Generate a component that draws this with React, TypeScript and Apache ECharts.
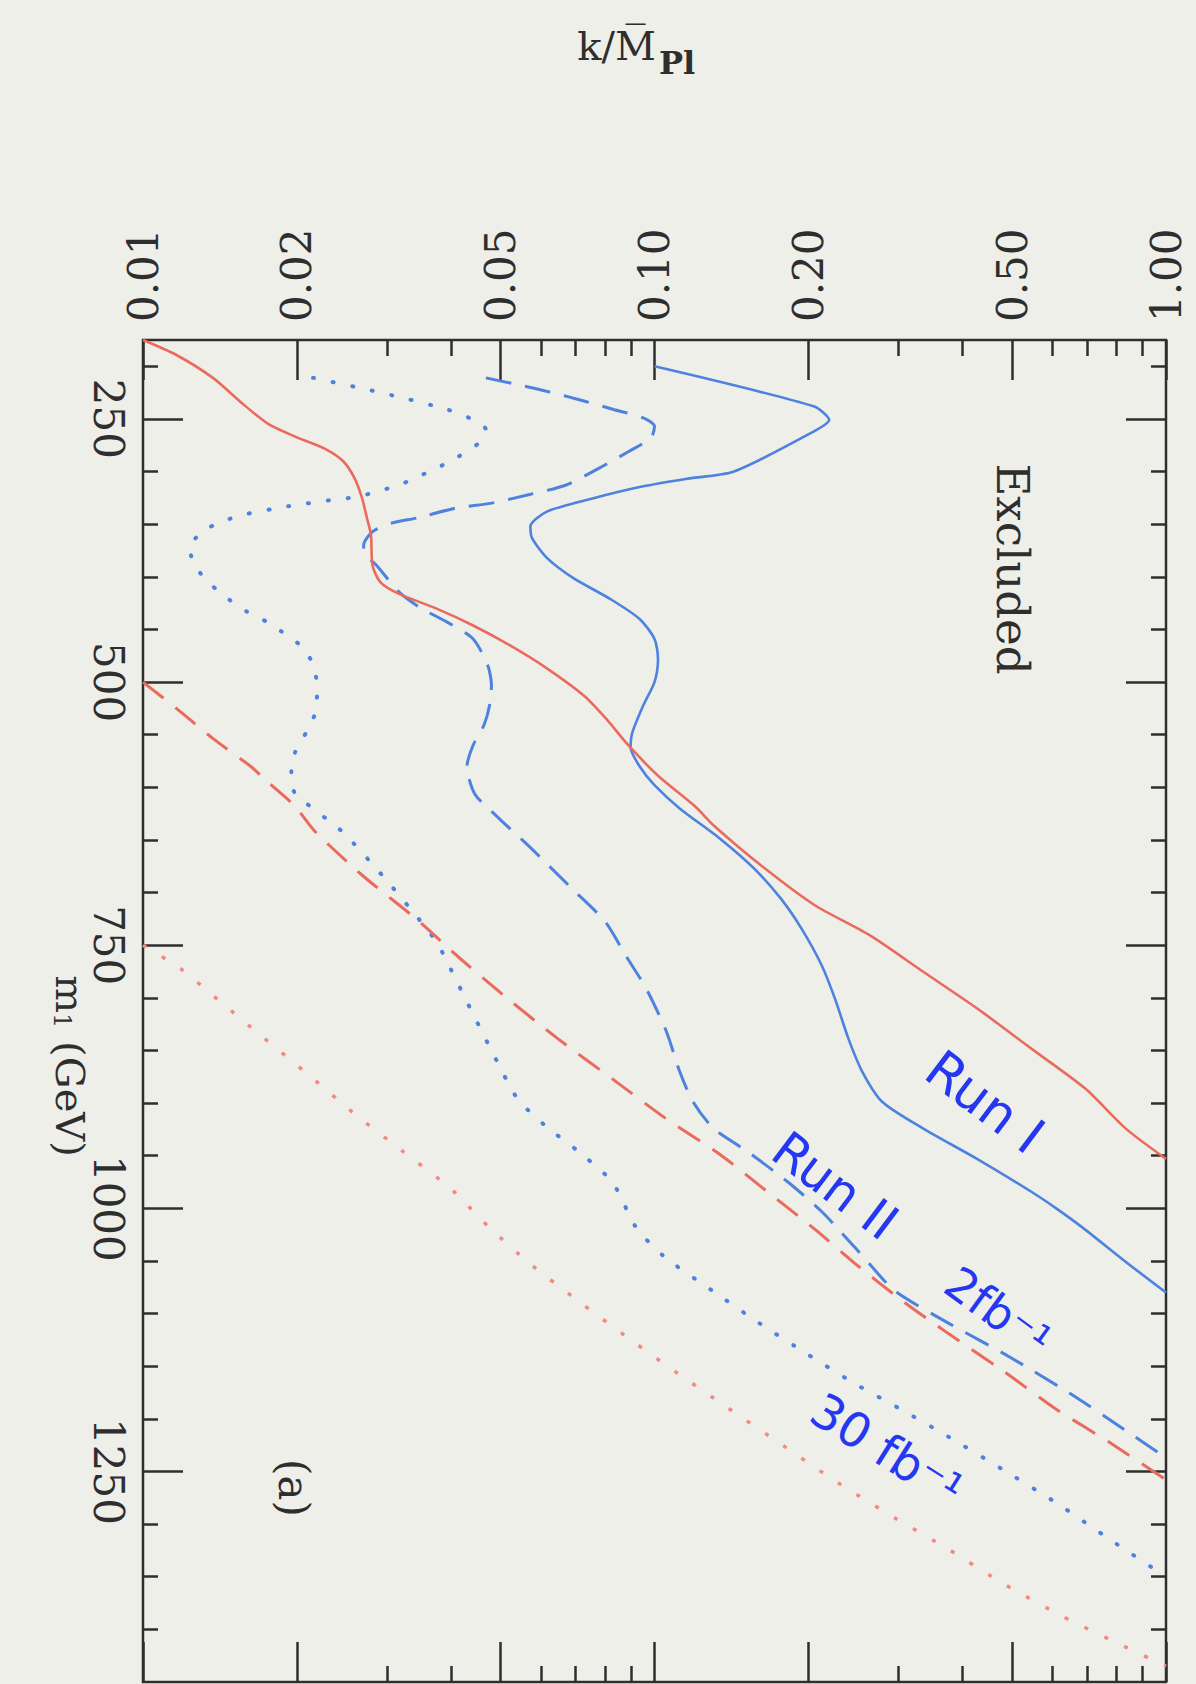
import React, { useEffect, useRef } from "react";
import * as echarts from "echarts";

// ---- tick values ----
const kTicksMajor = [0.01, 0.02, 0.05, 0.1, 0.2, 0.5, 1];
const kTicksMinor = [0.03, 0.04, 0.06, 0.07, 0.08, 0.09, 0.3, 0.4, 0.6, 0.7, 0.8, 0.9];
const mTicksMajor = [250, 500, 750, 1000, 1250];
const mTicksMinor = [200, 300, 350, 400, 450, 550, 600, 650, 700, 800, 850, 900, 950, 1050, 1100, 1150, 1200, 1300, 1350, 1400];

// ---- curves: [k / M_Pl, m1 (GeV)] ----
const redSolid: [number, number][] = [
  [0.01, 175], [0.0116, 189], [0.0137, 211], [0.0157, 236], [0.0176, 255], [0.0201, 268],
  [0.0226, 278], [0.0246, 290], [0.0259, 306], [0.0268, 325], [0.0274, 344], [0.0279, 360],
  [0.0281, 389], [0.0291, 405], [0.0316, 416], [0.0374, 430], [0.0441, 446], [0.0521, 465],
  [0.0616, 487], [0.0728, 513], [0.0805, 535], [0.0889, 560], [0.1016, 589], [0.12, 618],
  [0.1304, 636], [0.1614, 674], [0.2058, 712], [0.2625, 740], [0.3347, 775], [0.4271, 810],
  [0.5445, 848], [0.6944, 886], [0.8333, 924], [1.0, 953],
];
const blueSolid: [number, number][] = [
  [0.1, 200], [0.2046, 238], [0.2195, 251], [0.2046, 262], [0.143, 300], [0.115, 307],
  [0.095, 314], [0.075, 326], [0.0616, 338], [0.0572, 352], [0.0576, 363], [0.0616, 382],
  [0.0693, 401], [0.0819, 421], [0.0935, 440], [0.1, 459], [0.1016, 478], [0.1, 500],
  [0.0951, 522], [0.0905, 548], [0.0898, 562], [0.0935, 580], [0.1, 598], [0.112, 620],
  [0.1345, 649], [0.1565, 677], [0.1768, 706], [0.1937, 734], [0.2122, 769], [0.2254, 801],
  [0.2395, 839], [0.2547, 870], [0.279, 899], [0.3347, 924], [0.4271, 953], [0.5445, 984],
  [0.61, 1000], [0.69, 1019], [0.83, 1050], [1.0, 1080],
];
const blueDashed: [number, number][] = [
  [0.0468, 211], [0.0596, 222], [0.0728, 233], [0.0832, 241], [0.0951, 249], [0.1, 257],
  [0.0984, 268], [0.089, 281], [0.0778, 297], [0.067, 313], [0.0567, 322], [0.048, 330],
  [0.0406, 335], [0.0344, 344], [0.0306, 349], [0.0281, 357], [0.027, 370], [0.0272, 379],
  [0.0286, 389], [0.0316, 414], [0.035, 430], [0.0393, 443], [0.0442, 459], [0.0472, 484],
  [0.048, 503], [0.0476, 522], [0.0464, 541], [0.0442, 560], [0.0430, 580], [0.0445, 606],
  [0.0493, 628], [0.0574, 658], [0.0689, 696], [0.0802, 728], [0.0879, 760], [0.0963, 791],
  [0.1055, 832], [0.112, 870], [0.119, 899], [0.1304, 924], [0.1519, 946], [0.1823, 975],
  [0.2122, 1003], [0.239, 1030], [0.256, 1046], [0.2944, 1078], [0.3755, 1109],
  [0.4938, 1141], [0.6494, 1176], [0.8282, 1210], [1.0, 1237],
];
const redDashed: [number, number][] = [
  [0.01, 500], [0.01162, 525], [0.01373, 554], [0.01623, 580], [0.01754, 595], [0.01982, 618],
  [0.0217, 642], [0.0269, 684], [0.0342, 725], [0.0411, 760], [0.0508, 798], [0.0648, 839],
  [0.0827, 877], [0.1055, 915], [0.1345, 949], [0.166, 984], [0.206, 1020], [0.246, 1052],
  [0.3034, 1087], [0.3755, 1119], [0.4789, 1154], [0.6109, 1191], [0.7791, 1223], [1.0, 1258],
];
const blueDotted: [number, number][] = [
  [0.0215, 211], [0.0268, 221], [0.0322, 230], [0.0393, 241], [0.0434, 249], [0.0468, 260],
  [0.0453, 273], [0.0413, 286], [0.0374, 297], [0.0344, 305], [0.0316, 313], [0.0286, 319],
  [0.0263, 324], [0.0234, 327], [0.0192, 333], [0.0157, 341], [0.0142, 348], [0.01306, 357],
  [0.01232, 373], [0.01274, 392], [0.01362, 408], [0.01468, 421], [0.01595, 433],
  [0.01749, 443], [0.01917, 456], [0.0205, 467], [0.02154, 484], [0.0219, 506], [0.02173, 529],
  [0.02084, 548], [0.01982, 567], [0.0195, 586], [0.0198, 605], [0.0245, 642], [0.0294, 684],
  [0.0342, 722], [0.0375, 747], [0.0399, 772], [0.0424, 798], [0.045, 823], [0.0493, 861],
  [0.054, 896], [0.061, 921], [0.071, 946], [0.0827, 975], [0.092, 1018], [0.1046, 1046],
  [0.1295, 1078], [0.1602, 1109], [0.1982, 1138], [0.2453, 1166], [0.3034, 1191],
  [0.3755, 1217], [0.4789, 1248], [0.6109, 1280], [0.7791, 1315], [1.0, 1350],
];
const redDotted: [number, number][] = [
  [0.01, 750], [0.01182, 772], [0.01419, 804], [0.01702, 836], [0.02105, 873], [0.02604, 911],
  [0.03224, 946], [0.0399, 981], [0.0475, 1018], [0.0569, 1052], [0.0705, 1087], [0.0899, 1125],
  [0.1112, 1157], [0.1376, 1188], [0.1755, 1223], [0.2239, 1258], [0.2855, 1290], [0.3755, 1324],
  [0.4789, 1356], [0.6297, 1388], [0.8034, 1413], [1.0, 1435],
];

const RED = "#ea6b5d";
const RED_LIGHT = "#f08b7d";
const BLUE = "#4d82de";
const INK = "#2e2e2e";
const HAND = "#2438f2";
const BG = "#efefea";
const SERIF = "DejaVu Serif";

const deg = (d: number) => (d * Math.PI) / 180;

export default function App() {
  const ref = useRef<HTMLDivElement>(null);
  useEffect(() => {
    document.body.style.margin = "0";
    document.body.style.background = BG;
    const chart = echarts.init(ref.current!, null, { renderer: "svg" });

    const kAxis = (pos: "top" | "bottom", values: number[], len: number, labels: boolean) => ({
      type: "value",
      min: -2,
      max: 0,
      position: pos,
      axisLine: { show: false, onZero: false },
      splitLine: { show: false },
      axisTick: {
        show: true,
        inside: true,
        length: len,
        customValues: values.map((v) => Math.log10(v)),
        lineStyle: { color: INK, width: 2.5 },
      },
      axisLabel: labels
        ? {
            show: true,
            customValues: values.map((v) => Math.log10(v)),
            rotate: -90,
            margin: 18,
            formatter: (v: number) => Math.pow(10, v).toFixed(2),
            fontFamily: SERIF,
            fontSize: 42,
            color: INK,
          }
        : { show: false },
    });
    const mAxis = (pos: "left" | "right", values: number[], len: number, labels: boolean) => ({
      type: "value",
      inverse: true,
      min: 175,
      max: 1450,
      position: pos,
      axisLine: { show: false, onZero: false },
      splitLine: { show: false },
      axisTick: {
        show: true,
        inside: true,
        length: len,
        customValues: values,
        lineStyle: { color: INK, width: 2.5 },
      },
      axisLabel: labels
        ? {
            show: true,
            customValues: values,
            rotate: -90,
            margin: 14,
            formatter: (v: number) => String(Math.round(v)),
            fontFamily: SERIF,
            fontSize: 42,
            color: INK,
          }
        : { show: false },
    });

    const line = (data: [number, number][], color: string, type: any, width: number, cap = "butt") => ({
      type: "line",
      xAxisIndex: 0,
      yAxisIndex: 0,
      data,
      showSymbol: false,
      smooth: 0.25,
      clip: true,
      lineStyle: { color, width, type, cap },
    });

    const handText = (text: string, x: number, y: number, rot: number, size: number) => ({
      type: "text",
      x,
      y,
      rotation: deg(rot),
      style: {
        text,
        fill: HAND,
        fontFamily: "DejaVu Sans",
        fontSize: size,
        align: "center",
        verticalAlign: "middle",
      },
    });

    chart.setOption({
      animation: false,
      backgroundColor: BG,
      grid: {
        left: 143,
        top: 340,
        width: 1023,
        height: 1342,
        show: true,
        borderColor: INK,
        borderWidth: 2.5,
        backgroundColor: "transparent",
      },
      xAxis: [
        { type: "log", logBase: 10, min: 0.01, max: 1, show: false, axisLine: { onZero: false } },
        kAxis("top", kTicksMajor, 40, true),
        kAxis("top", kTicksMinor, 16, false),
        kAxis("bottom", kTicksMajor, 40, false),
        kAxis("bottom", kTicksMinor, 16, false),
      ],
      yAxis: [
        mAxis("left", mTicksMajor, 40, true),
        mAxis("left", mTicksMinor, 15, false),
        mAxis("right", mTicksMajor, 40, false),
        mAxis("right", mTicksMinor, 15, false),
      ],
      series: [
        line(blueSolid, BLUE, "solid", 2.6),
        line(blueDashed, BLUE, [26, 14], 3),
        line(blueDotted, BLUE, [1, 19], 4, "round"),
        line(redDashed, RED, [26, 15], 3),
        line(redDotted, RED_LIGHT, [4, 18], 3.5),
        line(redSolid, RED, "solid", 2.6),
      ],
      graphic: [
        {
          type: "text",
          x: 656,
          y: 46,
          style: {
            text: "k/M\u0305",
            fill: INK,
            fontFamily: SERIF,
            fontSize: 40,
            align: "right",
            verticalAlign: "middle",
          },
        },
        {
          type: "text",
          x: 659,
          y: 63,
          style: {
            text: "Pl",
            fill: INK,
            fontFamily: SERIF,
            fontWeight: "bold",
            fontSize: 32,
            align: "left",
            verticalAlign: "middle",
          },
        },
        {
          type: "text",
          x: 70,
          y: 1066,
          rotation: deg(-90),
          style: {
            text: "{a|m}{b|1}{a| (GeV)}",
            align: "center",
            verticalAlign: "middle",
            rich: {
              a: { fontFamily: SERIF, fontSize: 40, fill: INK },
              b: { fontFamily: SERIF, fontSize: 24, fill: INK, verticalAlign: "bottom" },
            },
          },
        },
        {
          type: "text",
          x: 1012,
          y: 569,
          rotation: deg(-90),
          style: {
            text: "Excluded",
            fill: INK,
            fontFamily: SERIF,
            fontSize: 45,
            align: "center",
            verticalAlign: "middle",
          },
        },
        {
          type: "text",
          x: 293,
          y: 1488,
          rotation: deg(-90),
          style: {
            text: "(a)",
            fill: INK,
            fontFamily: SERIF,
            fontSize: 42,
            align: "center",
            verticalAlign: "middle",
          },
        },
        handText("Run I", 985, 1102, -37, 52),
        handText("Run II", 835, 1186, -37, 50),
        handText("2fb\u207B\u00B9", 998, 1312, -36, 46),
        handText("30 fb\u207B\u00B9", 887, 1450, -32, 48),
      ],
    });
    return () => chart.dispose();
  }, []);
  return (
    <div
      ref={ref}
      style={{ position: "absolute", left: 0, top: 0, width: 1196, height: 1684, background: BG }}
    />
  );
}
